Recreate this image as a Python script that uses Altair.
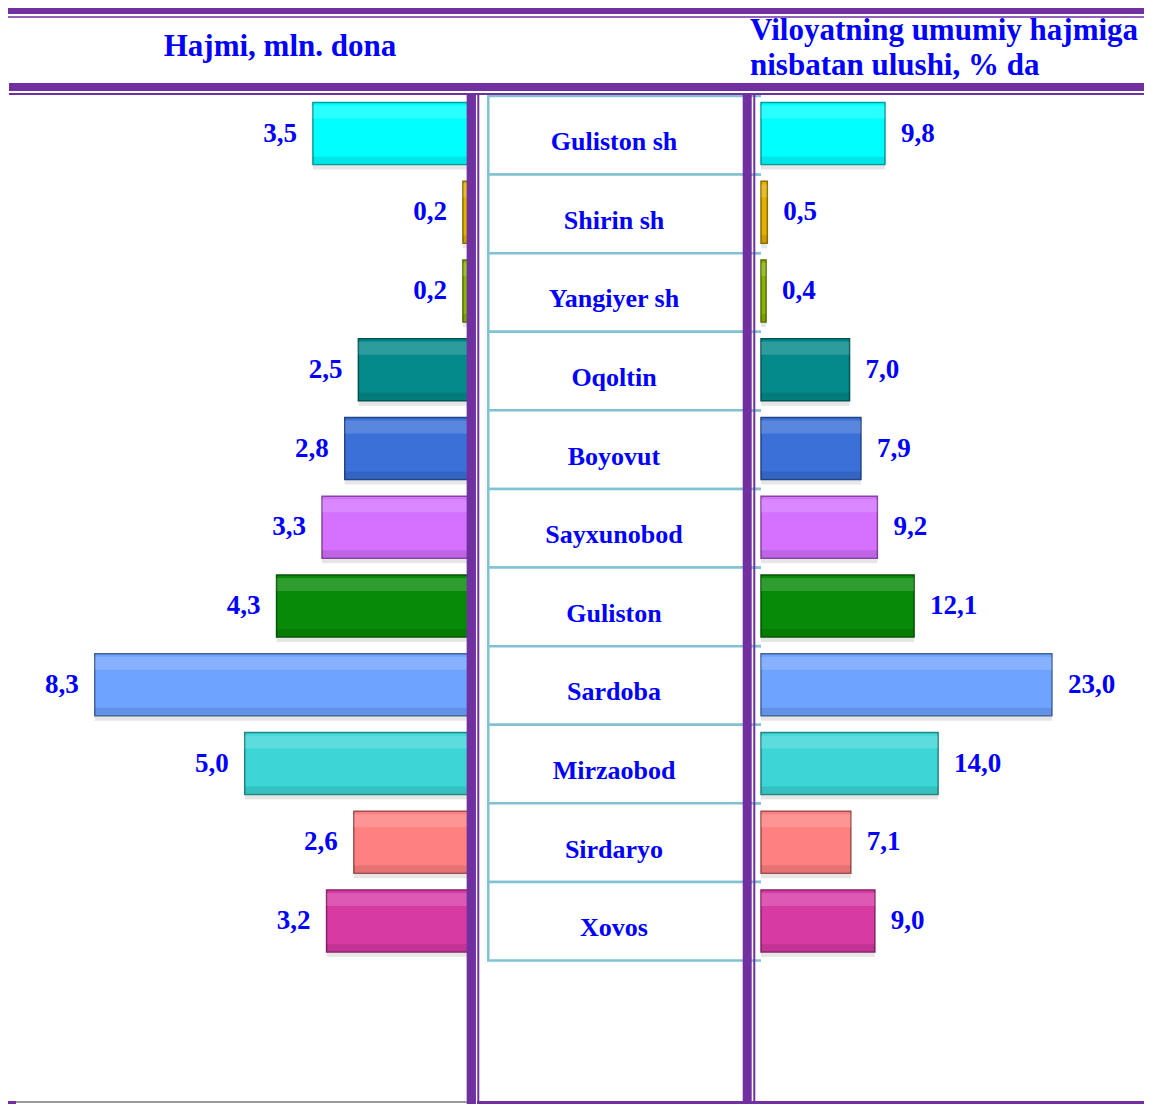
import altair as alt
import pandas as pd

# ---------------- data ----------------
regions = ["Guliston sh", "Shirin sh", "Yangiyer sh", "Oqoltin", "Boyovut",
           "Sayxunobod", "Guliston", "Sardoba", "Mirzaobod", "Sirdaryo", "Xovos"]
volume = [3.5, 0.2, 0.2, 2.5, 2.8, 3.3, 4.3, 8.3, 5.0, 2.6, 3.2]      # mln. dona
share = [9.8, 0.5, 0.4, 7.0, 7.9, 9.2, 12.1, 23.0, 14.0, 7.1, 9.0]     # % da
bar_colors = ["#00FFFF", "#E3B000", "#8AB400", "#058A8A", "#3A70D8", "#D570FF",
              "#078A07", "#6EA3FF", "#3DD6D6", "#FF8080", "#D83AA4"]
header_left = "Hajmi, mln. dona"
header_right = ["Viloyatning umumiy hajmiga", "nisbatan ulushi, % da"]


def darken(hex_color, f=0.62):
    h = hex_color.lstrip("#")
    r, g, b = (int(h[i:i + 2], 16) for i in (0, 2, 4))
    return "#%02X%02X%02X" % (int(r * f), int(g * f), int(b * f))


def fmt(v):
    return f"{v:.1f}".replace(".", ",")


bar_strokes = [darken(c) for c in bar_colors]

df = pd.DataFrame({
    "region": regions,
    "volume": volume,
    "share": share,
    "vol_label": [fmt(v) for v in volume],
    "share_label": [fmt(v) for v in share],
})
one = pd.DataFrame({"k": [0]})

# ---------------- geometry / style ----------------
W, H = 1136, 1096
PURPLE = "#7030A0"
BLUE = "#0000FF"
GRID = "#80C2D2"
FONT = "Liberation Serif"

n = len(regions)
step = 78.75
bw = 62.0
c0 = 125.5
pi = 1 - bw / step


def band(shift=0.0, inner=pi):
    r0 = c0 - step / 2 + shift
    return alt.Scale(type="band", domain=regions, range=[r0, r0 + step * n],
                     paddingInner=inner, paddingOuter=inner / 2)


y_bar = band()
y_shadow = band(5)
y_hi = band(-21.5, 1 - 13 / step)
y_lo = band(26.5, 1 - 7 / step)
y_table = alt.Scale(type="band", domain=regions, range=[88, 952.5],
                    paddingInner=0, paddingOuter=0)

left_x = alt.Scale(domain=[0, 10], range=[464, 464 - 454.5])
right_x = alt.Scale(domain=[0, 25], range=[753, 753 + 12.65 * 25])

col = alt.Color("region:N", scale=alt.Scale(domain=regions, range=bar_colors), legend=None)
stk = alt.Stroke("region:N", scale=alt.Scale(domain=regions, range=bar_strokes), legend=None)

layers = []

# table cells
layers.append(alt.Chart().mark_rect(fill="white", stroke=GRID, strokeWidth=2.5).encode(
    x=alt.value(480.3), x2=alt.value(739),
    y=alt.Y("region:N", scale=y_table, axis=None)))
for bp in (0, 1):
    layers.append(alt.Chart().mark_rule(color=GRID, strokeWidth=2.5).encode(
        x=alt.value(739), x2=alt.value(753),
        y=alt.Y("region:N", scale=y_table, axis=None, bandPosition=bp)))

# bars with shadow + bevel shading
for field, xs in (("volume", left_x), ("share", right_x)):
    layers.append(alt.Chart().mark_bar(color="#808080", opacity=0.2).encode(
        x=alt.X(f"{field}:Q", scale=xs, axis=None),
        y=alt.Y("region:N", scale=y_shadow, axis=None)))
    layers.append(alt.Chart().mark_bar(strokeWidth=1.5).encode(
        x=alt.X(f"{field}:Q", scale=xs, axis=None),
        y=alt.Y("region:N", scale=y_bar, axis=None),
        color=col, stroke=stk))
    layers.append(alt.Chart().mark_bar(color="white", opacity=0.16).encode(
        x=alt.X(f"{field}:Q", scale=xs, axis=None),
        y=alt.Y("region:N", scale=y_hi, axis=None)))
    layers.append(alt.Chart().mark_bar(color="black", opacity=0.1).encode(
        x=alt.X(f"{field}:Q", scale=xs, axis=None),
        y=alt.Y("region:N", scale=y_lo, axis=None)))

# value labels
txt = dict(font=FONT, fontWeight="bold", fontSize=27, color=BLUE, baseline="middle")
layers.append(alt.Chart().mark_text(align="right", dx=-16, **txt).encode(
    x=alt.X("volume:Q", scale=left_x, axis=None),
    y=alt.Y("region:N", scale=y_bar, axis=None),
    text="vol_label:N"))
layers.append(alt.Chart().mark_text(align="left", dx=16, **txt).encode(
    x=alt.X("share:Q", scale=right_x, axis=None),
    y=alt.Y("region:N", scale=y_bar, axis=None),
    text="share_label:N"))

# region names in the middle table
layers.append(alt.Chart().mark_text(align="center", baseline="middle", dy=7, font=FONT,
                                    fontWeight="bold", fontSize=26, color=BLUE).encode(
    x=alt.value(606),
    y=alt.Y("region:N", scale=y_table, axis=None),
    text="region:N"))


def rule(x1, x2, y1, y2, width, color=PURPLE):
    return alt.Chart(one).mark_rule(color=color, strokeWidth=width).encode(
        x=alt.value(x1), x2=alt.value(x2), y=alt.value(y1), y2=alt.value(y2))


# decorative frame
layers += [
    rule(0, W, 3, 3, 6),
    rule(0, W, 9, 9, 1.7),
    rule(1, W, 79, 79, 8),
    rule(1, W, 86, 86, 2),
    rule(463.3, 463.3, 87, H, 9.3),
    rule(470.3, 470.3, 87, H, 2),
    rule(739.2, 739.2, 87, H, 9),
    rule(746.3, 746.3, 87, H, 2),
    rule(8, 459, H - 2, H - 2, 2, "#999999"),
    rule(0, 8, H - 1.5, H - 1.5, 3),
    rule(469, 747, H - 1.5, H - 1.5, 3),
    rule(746, W, H - 1.5, H - 1.5, 3),
]

# headers
hdr = dict(font=FONT, fontWeight="bold", fontSize=31, color=BLUE, baseline="middle")
layers.append(alt.Chart(one).mark_text(align="center", **hdr).encode(
    x=alt.value(272), y=alt.value(39), text=alt.value(header_left)))
layers.append(alt.Chart(one).mark_text(align="left", **hdr).encode(
    x=alt.value(742), y=alt.value(23), text=alt.value(header_right[0])))
layers.append(alt.Chart(one).mark_text(align="left", **hdr).encode(
    x=alt.value(742), y=alt.value(58), text=alt.value(header_right[1])))

chart = alt.layer(*layers, data=df).resolve_scale(
    x="independent", y="independent"
).properties(
    width=W, height=H, padding=0,
    autosize=alt.AutoSizeParams(type="none"),
).configure_view(strokeWidth=0)

chart.save("out.html", embed_options={"renderer": "svg", "actions": False})
